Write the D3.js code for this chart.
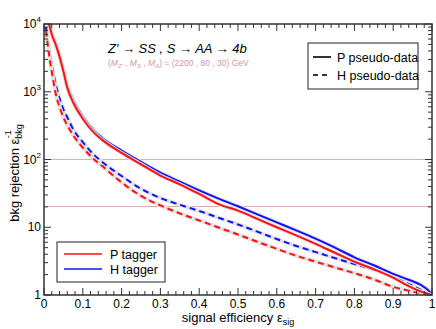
<!DOCTYPE html>
<html>
<head>
<meta charset="utf-8">
<script src="https://cdn.jsdelivr.net/npm/d3@7"></script>
<style>
  body { margin: 0; background: #fff; }
  text { font-family: "Liberation Sans", Arial, sans-serif; }
</style>
</head>
<body>
<script>
// signal efficiency grid shared by all four curves
var eps = [0.005, 0.01, 0.015, 0.02, 0.03, 0.04, 0.05, 0.06, 0.075, 0.1, 0.13, 0.15,
           0.2, 0.25, 0.3, 0.35, 0.4, 0.45, 0.5, 0.55, 0.6, 0.65, 0.7, 0.75, 0.8,
           0.85, 0.9, 0.94, 0.97, 0.99, 1.0];

// background rejection, tagger / pseudo-data
var rejP_Pdata = [30000, 12000, 9000, 7000, 5000, 3300, 2000, 1150, 700, 400, 245, 195,
                  125, 85, 58, 43, 31, 22, 17.6, 13.3, 10, 7.6, 5.7, 4.2, 3.1,
                  2.4, 1.8, 1.35, 1.13, 1.04, 1];
var rejH_Pdata = [30000, 13000, 9500, 7500, 5300, 3500, 2150, 1250, 760, 430, 262, 208,
                  135, 92, 64, 47, 35, 26.5, 20.4, 15.5, 11.8, 9, 6.8, 5, 3.6,
                  2.75, 2.05, 1.68, 1.42, 1.18, 1];
var rejH_Hdata = [9000, 5500, 3600, 2500, 1300, 800, 550, 420, 280, 180, 115, 92,
                  57, 37, 27, 21.5, 17.4, 13.8, 11, 8.6, 6.7, 5.3, 4.3, 3.5, 2.87,
                  2.35, 1.85, 1.45, 1.2, 1.06, 1];
var rejP_Hdata = [8000, 4800, 3000, 2000, 950, 600, 420, 320, 230, 150, 99, 80,
                  46, 29, 21, 16, 12.6, 9.9, 7.8, 6.1, 4.8, 3.8, 3.1, 2.55, 2.1,
                  1.7, 1.32, 1.16, 1.07, 1.02, 1];

var refLines = [100, 20];
var xTicks = [0, 0.1, 0.2, 0.3, 0.4, 0.5, 0.6, 0.7, 0.8, 0.9, 1];
var xTickLabels = ["0", "0.1", "0.2", "0.3", "0.4", "0.5", "0.6", "0.7", "0.8", "0.9", "1"];
var yTicks = [1, 10, 100, 1000, 10000];
var yExp = ["", "", "2", "3", "4"];

var width = 436, height = 329;
var pl = 44, pr = 432, pt = 24, pb = 295;

var svg = d3.select("body").append("svg")
    .attr("width", width)
    .attr("height", height);

var x = d3.scaleLinear().domain([0, 1]).range([pl, pr]);
var y = d3.scaleLog().domain([1, 10000]).range([pb, pt]);

svg.append("clipPath").attr("id", "clip")
  .append("rect")
    .attr("x", pl).attr("y", pt)
    .attr("width", pr - pl).attr("height", pb - pt);

// reference lines (snapped to pixel centre so they stay crisp)
svg.selectAll(".ref")
  .data(refLines)
  .enter().append("line")
    .attr("x1", pl).attr("x2", pr)
    .attr("y1", function(d){ return Math.floor(y(d)) + 0.5; })
    .attr("y2", function(d){ return Math.floor(y(d)) + 0.5; })
    .attr("stroke", "#dbb0b0")
    .attr("stroke-width", 1.2);

var line = d3.line()
    .x(function(d){ return x(d[0]); })
    .y(function(d){ return y(d[1]); })
    .curve(d3.curveMonotoneX);

var series = [
  {vals: rejH_Hdata, color: "#1010ff", dash: "6,4"},
  {vals: rejP_Hdata, color: "#ff1010", dash: "6,4"},
  {vals: rejH_Pdata, color: "#1010ff", dash: null},
  {vals: rejP_Pdata, color: "#ff1010", dash: null}
];

var g = svg.append("g").attr("clip-path", "url(#clip)");

series.forEach(function(s){
  var pts = eps.map(function(e, i){ return [e, s.vals[i]]; });
  // faint grey band around each curve
  g.append("path")
    .datum(pts)
    .attr("d", line)
    .attr("fill", "none")
    .attr("stroke", "#e2e2e2")
    .attr("stroke-width", 4);
  g.append("path")
    .datum(pts)
    .attr("d", line)
    .attr("fill", "none")
    .attr("stroke", s.color)
    .attr("stroke-width", 2)
    .attr("stroke-dasharray", s.dash);
});

// frame with inward ticks on all sides
var axisColor = "#333";
svg.append("rect")
  .attr("x", pl).attr("y", pt)
  .attr("width", pr - pl).attr("height", pb - pt)
  .attr("fill", "none")
  .attr("stroke", axisColor)
  .attr("stroke-width", 1.5);

var xMinor = d3.range(0, 1.0001, 0.02);
xMinor.forEach(function(v, i){
  var major = i % 5 === 0;
  var len = major ? 7 : 4;
  svg.append("line").attr("x1", x(v)).attr("x2", x(v))
    .attr("y1", pb).attr("y2", pb - len)
    .attr("stroke", axisColor).attr("stroke-width", 1);
  svg.append("line").attr("x1", x(v)).attr("x2", x(v))
    .attr("y1", pt).attr("y2", pt + len)
    .attr("stroke", axisColor).attr("stroke-width", 1);
});

var yMinor = [];
[1, 10, 100, 1000].forEach(function(d){
  for (var k = 2; k <= 9; k++) yMinor.push(d * k);
});
yMinor.forEach(function(v){
  svg.append("line").attr("x1", pl).attr("x2", pl + 4)
    .attr("y1", y(v)).attr("y2", y(v))
    .attr("stroke", axisColor).attr("stroke-width", 1);
  svg.append("line").attr("x1", pr).attr("x2", pr - 4)
    .attr("y1", y(v)).attr("y2", y(v))
    .attr("stroke", axisColor).attr("stroke-width", 1);
});
yTicks.forEach(function(v){
  svg.append("line").attr("x1", pl).attr("x2", pl + 7)
    .attr("y1", y(v)).attr("y2", y(v))
    .attr("stroke", axisColor).attr("stroke-width", 1);
  svg.append("line").attr("x1", pr).attr("x2", pr - 7)
    .attr("y1", y(v)).attr("y2", y(v))
    .attr("stroke", axisColor).attr("stroke-width", 1);
});

// tick labels
svg.selectAll(".xlab")
  .data(xTicks)
  .enter().append("text")
    .attr("x", function(d){ return x(d); })
    .attr("y", pb + 13)
    .attr("text-anchor", "middle")
    .attr("font-size", 12)
    .text(function(d, i){ return xTickLabels[i]; });

yTicks.forEach(function(v, i){
  var t = svg.append("text")
    .attr("x", pl - 3)
    .attr("y", y(v) + 4)
    .attr("text-anchor", "end")
    .attr("font-size", 12);
  if (yExp[i]) {
    t.append("tspan").text("10");
    t.append("tspan").attr("font-size", 8).attr("dy", -6).text(yExp[i]);
  } else {
    t.text(v === 1 ? "1" : "10");
  }
});

// axis titles
var xt = svg.append("text")
  .attr("x", 238).attr("y", 322)
  .attr("text-anchor", "middle")
  .attr("font-size", 13);
xt.append("tspan").text("signal efficiency \u03b5");
xt.append("tspan").attr("font-size", 9).attr("dy", 3).text("sig");

var yt = svg.append("text")
  .attr("transform", "translate(19,173) rotate(-90)")
  .attr("text-anchor", "middle")
  .attr("font-size", 13);
yt.append("tspan").text("bkg rejection \u03b5");
yt.append("tspan").attr("font-size", 9).attr("dy", 3).text("bkg");
yt.append("tspan").attr("font-size", 9).attr("dx", -14).attr("dy", -11).text("-1");

// process annotation
svg.append("text")
  .attr("x", 108).attr("y", 53)
  .attr("font-size", 13)
  .attr("font-style", "italic")
  .text("Z\u2032 \u2192 SS , S \u2192 AA \u2192 4b");

var ann = svg.append("text")
  .attr("x", 108).attr("y", 66)
  .attr("font-size", 8.5)
  .attr("fill", "#d09a9a");
ann.append("tspan").text("(");
ann.append("tspan").attr("font-style", "italic").text("M");
ann.append("tspan").attr("font-size", 6).attr("dy", 2).attr("font-style", "italic").text("Z\u2032");
ann.append("tspan").attr("dy", -2).text(" , ");
ann.append("tspan").attr("font-style", "italic").text("M");
ann.append("tspan").attr("font-size", 6).attr("dy", 2).attr("font-style", "italic").text("S");
ann.append("tspan").attr("dy", -2).text(" , ");
ann.append("tspan").attr("font-style", "italic").text("M");
ann.append("tspan").attr("font-size", 6).attr("dy", 2).attr("font-style", "italic").text("A");
ann.append("tspan").attr("dy", -2).text(") = (2200 , 80 , 30) GeV");

// legend: pseudo-data line style
var lg1 = svg.append("g");
lg1.append("rect")
  .attr("x", 308).attr("y", 43).attr("width", 110).attr("height", 46)
  .attr("fill", "#fff").attr("stroke", "#222").attr("stroke-width", 1);
var styleItems = [{label: "P pseudo-data", dash: null, yy: 57},
                  {label: "H pseudo-data", dash: "5,4", yy: 75}];
styleItems.forEach(function(it){
  lg1.append("line")
    .attr("x1", 313).attr("x2", 331)
    .attr("y1", it.yy).attr("y2", it.yy)
    .attr("stroke", "#333").attr("stroke-width", 2)
    .attr("stroke-dasharray", it.dash);
  lg1.append("text")
    .attr("x", 337).attr("y", it.yy + 5)
    .attr("font-size", 12.5)
    .text(it.label);
});

// legend: tagger colours
var lg2 = svg.append("g");
lg2.append("rect")
  .attr("x", 57).attr("y", 242).attr("width", 108).attr("height", 40)
  .attr("fill", "#fff").attr("stroke", "#222").attr("stroke-width", 1);
var tagItems = [{label: "P tagger", color: "#ff1010", yy: 254},
                {label: "H tagger", color: "#1010ff", yy: 269}];
tagItems.forEach(function(it){
  lg2.append("line")
    .attr("x1", 64).attr("x2", 102)
    .attr("y1", it.yy).attr("y2", it.yy)
    .attr("stroke", it.color).attr("stroke-width", 1.5);
  lg2.append("text")
    .attr("x", 110).attr("y", it.yy + 5)
    .attr("font-size", 12.5)
    .text(it.label);
});
</script>
</body>
</html>
